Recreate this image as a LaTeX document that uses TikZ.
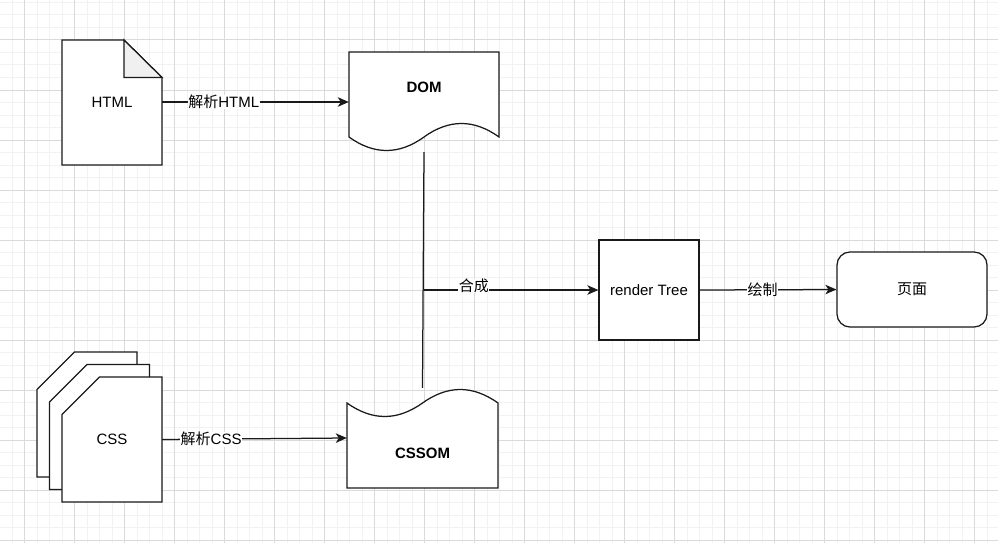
\documentclass[tikz,border=0pt]{standalone}
\usepackage{fontspec}
\setmainfont{Liberation Sans}
\newfontfamily\cjk{Noto Sans CJK SC}
\usetikzlibrary{arrows.meta}
\definecolor{gridminor}{HTML}{F2F2F2}
\definecolor{gridmajor}{HTML}{DADADA}
\definecolor{foldgray}{HTML}{F0F0F0}
\definecolor{stroke}{HTML}{1A1A1A}
\tikzset{
  shp/.style={draw=stroke, line width=1.25pt, fill=white, line join=miter},
  box/.style={draw=none, inner sep=0pt, font=\fontsize{15}{18}\selectfont},
  arr/.style={draw=stroke, line width=1.25pt, -{Stealth[length=11pt,width=9.5pt,inset=3pt]}},
  conn/.style={draw=stroke, line width=1.25pt},
  lbl/.style={fill=white, inner sep=0.5pt, font=\fontsize{15}{18}\selectfont},
}
\begin{document}
\begin{tikzpicture}[x=1pt,y=-1pt]
\useasboundingbox (0,0) rectangle (998,543);
\fill[white] (0,0) rectangle (998,543);
% grid
\foreach \gx in {-0.5,12,...,998} \draw[gridminor, line width=1pt] (\gx,0) -- (\gx,543);
\foreach \gy in {2.5,15,...,543} \draw[gridminor, line width=1pt] (0,\gy) -- (998,\gy);
\foreach \gx in {24.5,74.5,...,998} \draw[gridmajor, line width=1pt] (\gx,0) -- (\gx,543);
\foreach \gy in {40,90,...,543} \draw[gridmajor, line width=1pt] (0,\gy) -- (998,\gy);

% HTML document
\path[shp] (62,40) -- (124,40) -- (162,77.5) -- (162,165) -- (62,165) -- cycle;
\path[shp, fill=foldgray] (124,40) -- (124,77.5) -- (162,77.5) -- cycle;
\node[box, minimum width=100pt, minimum height=125pt] (html) at (112,102.5) {HTML};

% DOM document shape
\path[shp] (349,52) -- (499,52) -- (499,137)
  .. controls (474,119) and (449,119) .. (424,137)
  .. controls (399,155) and (374,155) .. (349,137) -- cycle;
\node[box, minimum width=150pt, minimum height=100pt] (dom) at (424,102) {};
\node[box, font=\fontsize{15}{18}\selectfont\bfseries] (domtxt) at (424,87) {DOM};

% CSS stack
\path[shp] (74.5,352) -- (137,352) -- (137,477) -- (37,477) -- (37,389.5) -- cycle;
\path[shp] (87,364.5) -- (149.5,364.5) -- (149.5,489.5) -- (49.5,489.5) -- (49.5,402) -- cycle;
\path[shp] (99.5,377) -- (162,377) -- (162,502) -- (62,502) -- (62,414.5) -- cycle;
\node[box, minimum width=100pt, minimum height=125pt] (css) at (112,439.5) {CSS};

% CSSOM shape
\path[shp] (347,403)
  .. controls (372.2,421) and (397.3,421) .. (422.5,403)
  .. controls (447.7,385) and (472.8,385) .. (498,403)
  -- (498,488) -- (347,488) -- cycle;
\node[box, minimum width=151pt, minimum height=100pt] (cssom) at (422.5,438) {};
\node[box, font=\fontsize{15}{18}\selectfont\bfseries] (cssomtxt) at (422.5,453) {CSSOM};

% render tree
\node[box, shp, minimum width=100pt, minimum height=100pt] (render) at (649,290) {render Tree};

% page
\node[box, shp, rounded corners=13pt, minimum width=150pt, minimum height=75pt] (page) at (912,289.5) {\cjk 页面};

% connectors
\draw[arr] (html.east |- 0,102) -- node[lbl, pos=0.33] {{\cjk 解析}HTML} (dom.west |- 0,102);
\draw[arr] (css.east) -- node[lbl, pos=0.265] {{\cjk 解析}CSS} (cssom.west);
\draw[conn] (dom.south) -- (cssom.north);
\coordinate (merge) at (424,290);
\draw[arr] (merge) -- node[lbl, pos=0.286, yshift=4pt] {\cjk 合成} (render.west);
\draw[arr] (render.east) -- node[lbl, pos=0.46] {\cjk 绘制} (page.west);
\end{tikzpicture}
\end{document}
